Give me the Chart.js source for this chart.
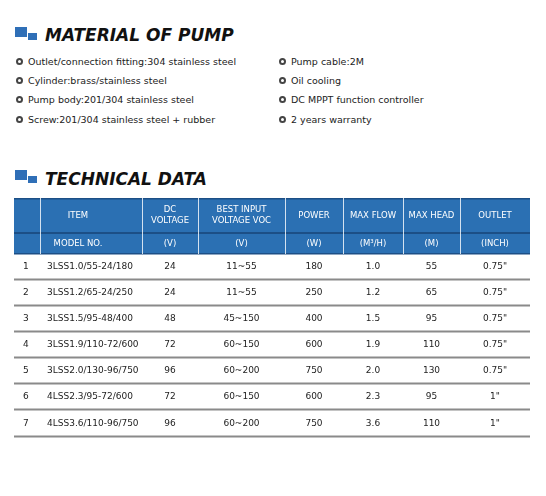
<!DOCTYPE html>
<html><head><meta charset="utf-8">
<script src="https://cdn.jsdelivr.net/npm/chart.js@4"></script>
<style>
body{margin:0;background:#fff;font-family:"DejaVu Sans",Verdana,sans-serif;color:#222;}
.t{position:absolute;font-size:9.5px;white-space:nowrap;}
.h{position:absolute;font-weight:bold;font-style:italic;font-size:17px;color:#111;}
.b{display:inline-block;width:3px;height:3px;border:2px solid #444;border-radius:50%;margin-right:5px;vertical-align:0px}
.sq1{position:absolute;width:12px;height:10px;background:#2f6fb7}
.sq2{position:absolute;width:9px;height:7px;background:#2f6fb7}
</style></head><body>
<div class="sq1" style="left:15px;top:27px"></div><div class="sq2" style="left:28px;top:33px"></div>
<div class="h" style="left:45px;top:25px">MATERIAL OF PUMP</div>
<div class="sq1" style="left:15px;top:170px"></div><div class="sq2" style="left:28px;top:176px"></div>
<div class="h" style="left:45px;top:169px">TECHNICAL DATA</div>
<div id="bul"></div>
<canvas id="c" style="position:absolute;left:14px;top:198px"></canvas>
<script>
const leftBullets=["Outlet/connection fitting:304 stainless steel","Cylinder:brass/stainless steel","Pump body:201/304 stainless steel","Screw:201/304 stainless steel + rubber"];
const rightBullets=["Pump cable:2M","Oil cooling","DC MPPT function controller","2 years warranty"];
const header1=["ITEM","DC\nVOLTAGE","BEST INPUT\nVOLTAGE VOC","POWER","MAX FLOW","MAX HEAD","OUTLET"];
const header2=["MODEL NO.","(V)","(V)","(W)","(M³/H)","(M)","(INCH)"];
const idx=["1","2","3","4","5","6","7"];
const models=["3LSS1.0/55-24/180","3LSS1.2/65-24/250","3LSS1.5/95-48/400","3LSS1.9/110-72/600","3LSS2.0/130-96/750","4LSS2.3/95-72/600","4LSS3.6/110-96/750"];
const dcV=["24","24","48","72","96","72","96"];
const voc=["11~55","11~55","45~150","60~150","60~200","60~150","60~200"];
const power=["180","250","400","600","750","600","750"];
const flow=["1.0","1.2","1.5","1.9","2.0","2.3","3.6"];
const head=["55","65","95","110","130","95","110"];
const outlet=['0.75"','0.75"','0.75"','0.75"','0.75"','1"','1"'];

const ys=[63,82,101,121];
let h='';
ys.forEach((y,i)=>{h+=`<div class="t" style="left:16px;top:${y-7}px"><span class="b"></span>${leftBullets[i]}</div>`;
h+=`<div class="t" style="left:279px;top:${y-7}px"><span class="b"></span>${rightBullets[i]}</div>`;});
document.getElementById('bul').innerHTML=h;

const W=516,H=242;
const cv=document.getElementById('c');cv.width=W;cv.height=H;cv.style.width=W+'px';cv.style.height=H+'px';
const rowB=[0,35,56,82,108,134,160,186,212,239];
const tablePlugin={id:'tbl',afterDraw(ch){
 const c=ch.ctx,x=ch.scales.x,y=ch.scales.y;
 const X=v=>x.getPixelForValue(v),Y=v=>y.getPixelForValue(v);
 c.save();
 c.fillStyle='#2b70b3';c.fillRect(X(0),Y(0),X(W)-X(0),Y(56)-Y(0));
 c.fillStyle='#1c4f86';c.fillRect(X(0),Y(0),X(W)-X(0),1.5);c.fillRect(X(0),Y(34),X(W)-X(0),2);c.fillRect(X(0),Y(55),X(W)-X(0),1.5);
 c.strokeStyle='rgba(255,255,255,0.8)';c.lineWidth=1;
 const hc=[[0,128],[128,184],[184,271],[271,329],[329,389],[389,446],[446,516]];
 c.beginPath();[26,128,184,271,329,389,446].forEach(v=>{c.moveTo(X(v)+.5,Y(0));c.lineTo(X(v)+.5,Y(56));});c.stroke();
 c.fillStyle='#fff';c.font='8.5px "DejaVu Sans"';c.textAlign='center';c.textBaseline='middle';
 hc.forEach((b,i)=>{const cx=(X(b[0])+X(b[1]))/2;const L=header1[i].split('\n');
  L.forEach((s,k)=>c.fillText(s,cx,Y(17.5)+(k-(L.length-1)/2)*11));
  c.fillText(header2[i],cx,Y(45.5));});
 c.fillStyle='#8a8a8a';
 for(let r=0;r<7;r++){c.fillRect(X(0),Y(rowB[r+3])-1.5,X(W)-X(0),2);}
 c.fillStyle='#222';c.font='9px "DejaVu Sans"';
 const cols=[dcV,voc,power,flow,head,outlet];
 for(let r=0;r<7;r++){const cy=(Y(rowB[r+2])+Y(rowB[r+3]))/2;
  c.textAlign='left';c.fillText(idx[r],X(9),cy);c.fillText(models[r],X(33),cy);
  c.textAlign='center';cols.forEach((a,i)=>{const b=hc[i+1];c.fillText(a[r],(X(b[0])+X(b[1]))/2,cy);});}
 c.restore();}};
new Chart(cv,{type:'scatter',data:{datasets:[{data:[],pointRadius:0}]},
 options:{responsive:false,animation:false,layout:{padding:0},
 plugins:{legend:{display:false},tooltip:{enabled:false}},
 scales:{x:{type:'linear',min:0,max:W,display:false},y:{type:'linear',min:0,max:H,reverse:true,display:false}}},
 plugins:[tablePlugin]});
</script></body></html>
